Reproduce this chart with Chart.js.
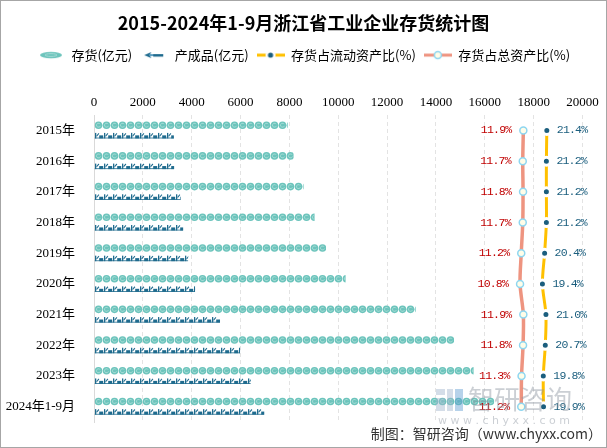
<!DOCTYPE html>
<html><head><meta charset="utf-8">
<script src="https://cdn.jsdelivr.net/npm/chart.js@4.4.1/dist/chart.umd.min.js"></script>
<style>html,body{margin:0;padding:0;background:#fff;}#wrap{position:absolute;left:0;top:0;width:607px;height:448px;}</style>
</head><body><div id="wrap"><canvas id="c" width="607" height="448"></canvas></div>
<script>
const categories = ['2015年','2016年','2017年','2018年','2019年','2020年','2021年','2022年','2023年','2024年1-9月'];
const inventory = [7930, 8170, 8580, 9030, 9500, 10300, 13170, 14740, 15540, 16390];
const finishedGoods = [3270, 3280, 3550, 3650, 3860, 4140, 5160, 5980, 6420, 6970];
const shareOfCurrentAssets = [21.4, 21.2, 21.2, 21.2, 20.4, 19.4, 21.0, 20.7, 19.8, 19.9];
const shareOfTotalAssets = [11.9, 11.7, 11.8, 11.7, 11.2, 10.8, 11.9, 11.8, 11.3, 11.2];
const xTickValues = [0, 2000, 4000, 6000, 8000, 10000, 12000, 14000, 16000, 18000, 20000];
const legendNames = ['存货(亿元)', '产成品(亿元)', '存货占流动资产比(%)', '存货占总资产比(%)'];
const titleText = '2015-2024年1-9月浙江省工业企业存货统计图';
const sourceText = '制图：智研咨询（www.chyxx.com）';

const TEAL = '#6CC4BC', TEAL_LIGHT = '#A6DCD6', DARKBLUE = '#1F6B8E';
const YELLOW = '#FFC000', SALMON = '#EE9480', DOT = '#1B5E7E';
const CJK = '"Noto Sans CJK SC", sans-serif';
const SERIF = '"Liberation Serif", "Noto Sans CJK SC", serif';

function makeCanvas(w, h, draw) { const c = document.createElement('canvas'); c.width = w; c.height = h; draw(c.getContext('2d')); return c; }
const iconInv = makeCanvas(26, 10, g => {
  g.fillStyle = TEAL; g.beginPath(); g.ellipse(13, 5, 11, 3.2, 0, 0, Math.PI * 2); g.fill();
  g.strokeStyle = TEAL_LIGHT; g.lineWidth = 1; g.beginPath(); g.ellipse(13, 5, 6, 1.4, 0, 0, Math.PI * 2); g.stroke();
});
const iconFG = makeCanvas(26, 10, g => {
  g.fillStyle = DARKBLUE; g.beginPath(); g.moveTo(3, 5); g.lineTo(10, 2); g.lineTo(8.5, 5); g.lineTo(10, 8); g.closePath(); g.fill();
  g.fillStyle = '#5A9CC0'; g.fillRect(8, 4, 4, 2);
  g.fillStyle = DARKBLUE; g.fillRect(12, 4, 10, 2.5);
});
const iconCur = makeCanvas(28, 12, g => {
  g.strokeStyle = YELLOW; g.lineWidth = 3; g.beginPath(); g.moveTo(0, 6); g.lineTo(28, 6); g.stroke();
  g.fillStyle = '#fff'; g.beginPath(); g.arc(14, 6, 5, 0, Math.PI * 2); g.fill();
  g.fillStyle = DOT; g.beginPath(); g.arc(14, 6, 2.6, 0, Math.PI * 2); g.fill();
});
const iconTot = makeCanvas(28, 12, g => {
  g.strokeStyle = SALMON; g.lineWidth = 3; g.beginPath(); g.moveTo(0, 6); g.lineTo(28, 6); g.stroke();
  g.fillStyle = '#FFFDE8'; g.strokeStyle = '#8ED6F0'; g.lineWidth = 1.5; g.beginPath(); g.arc(14, 6, 3.5, 0, Math.PI * 2); g.fill(); g.stroke();
});
const legendIcons = [iconInv, iconFG, iconCur, iconTot];

const pictorial = {
  id: 'pictorial',
  afterDatasetDraw(chart, args) {
    const ctx = chart.ctx;
    if (args.index === 0) {
      args.meta.data.forEach(el => {
        const { x, y, base, height } = el.getProps(['x', 'y', 'base', 'height'], true);
        const d = height, r = d / 2;
        ctx.save(); ctx.beginPath(); ctx.rect(base, y - r - 1, x - base, d + 2); ctx.clip();
        for (let cx = base + r; cx - r < x; cx += d) {
          ctx.fillStyle = TEAL; ctx.beginPath(); ctx.arc(cx, y, r - 0.2, 0, Math.PI * 2); ctx.fill();
          ctx.strokeStyle = TEAL_LIGHT; ctx.lineWidth = 1; ctx.beginPath(); ctx.arc(cx, y, r * 0.5, 0.3, Math.PI * 2 - 0.6); ctx.stroke();
        }
        ctx.restore();
      });
    } else if (args.index === 1) {
      args.meta.data.forEach(el => {
        const { x, y, base, height } = el.getProps(['x', 'y', 'base', 'height'], true);
        const h = height, top = y - h / 2;
        ctx.save(); ctx.beginPath(); ctx.rect(base, top - 1, x - base, h + 2); ctx.clip();
        ctx.fillStyle = DARKBLUE;
        for (let ix = base + 0.5; ix < x; ix += 9) {
          ctx.fillRect(ix, top, 1.3, h);
          ctx.beginPath(); ctx.moveTo(ix + 1.3, y); ctx.lineTo(ix + 3.5, top); ctx.lineTo(ix + 4.3, top + 0.8); ctx.lineTo(ix + 1.8, y + 1); ctx.closePath(); ctx.fill();
          ctx.fillRect(ix + 4.2, y - 0.3, 4, h / 2 + 0.3);
        }
        ctx.fillRect(base, top + h - 0.8, x - base, 0.8);
        ctx.restore();
      });
    }
  }
};

const labelsPlugin = {
  id: 'valueLabels',
  afterDatasetsDraw(chart) {
    const ctx = chart.ctx;
    ctx.save();
    ctx.font = '11.5px "Liberation Mono", monospace';
    ctx.letterSpacing = '-0.8px';
    ctx.textBaseline = 'middle';
    chart.getDatasetMeta(2).data.forEach((pt, i) => {
      ctx.fillStyle = DOT; ctx.textAlign = 'left';
      ctx.fillText(shareOfCurrentAssets[i].toFixed(1) + '%', pt.x + 10, pt.y);
    });
    chart.getDatasetMeta(3).data.forEach((pt, i) => {
      ctx.fillStyle = '#C00000'; ctx.textAlign = 'right';
      ctx.fillText(shareOfTotalAssets[i].toFixed(1) + '%', pt.x - 12, pt.y);
    });
    ctx.restore();
  }
};

const decor = {
  id: 'decor',
  beforeDraw(chart) {
    const ctx = chart.ctx; ctx.save(); ctx.fillStyle = '#fff'; ctx.fillRect(0, 0, chart.width, chart.height); ctx.restore();
  },
  afterDraw(chart) {
    const ctx = chart.ctx; ctx.save();
    ctx.globalAlpha = 0.45;
    ctx.fillStyle = '#9FB3CC'; ctx.fillRect(436, 389, 9, 6); ctx.fillRect(436, 398, 9, 13); ctx.fillRect(447, 389, 6, 22);
    ctx.fillStyle = '#5E9BD0'; ctx.fillRect(455, 389, 8, 22);
    ctx.fillStyle = '#8C95A0'; ctx.font = '26px ' + CJK; ctx.textBaseline = 'middle'; ctx.textAlign = 'left';
    ctx.fillText('智研咨询', 468, 399);
    ctx.font = '11px "DejaVu Sans", sans-serif';
    ctx.fillText('w w w . c h y x x . c o m', 438, 421);
    ctx.globalAlpha = 1;
    ctx.fillStyle = '#333'; ctx.font = '14px ' + CJK; ctx.textAlign = 'right';
    ctx.fillText(sourceText, 602, 434);
    ctx.strokeStyle = '#A6A6A6'; ctx.lineWidth = 1; ctx.strokeRect(0.5, 0.5, chart.width - 1, chart.height - 1);
    ctx.restore();
  }
};

new Chart(document.getElementById('c'), {
  data: {
    labels: categories,
    datasets: [
      { type: 'bar', label: legendNames[0], data: inventory, xAxisID: 'x', yAxisID: 'y', backgroundColor: 'rgba(0,0,0,0)', maxBarThickness: 8, categoryPercentage: 0.68, barPercentage: 1, indexAxis: 'y' },
      { type: 'bar', label: legendNames[1], data: finishedGoods, xAxisID: 'x', yAxisID: 'y', backgroundColor: 'rgba(0,0,0,0)', maxBarThickness: 5.5, categoryPercentage: 0.68, barPercentage: 1, indexAxis: 'y' },
      { type: 'line', label: legendNames[2], data: shareOfCurrentAssets, xAxisID: 'x2', yAxisID: 'y', indexAxis: 'y', borderColor: YELLOW, borderWidth: 3, tension: 0.3, pointRadius: 4, pointBorderWidth: 3, pointBackgroundColor: DOT, pointBorderColor: '#fff', fill: false },
      { type: 'line', label: legendNames[3], data: shareOfTotalAssets, xAxisID: 'x3', yAxisID: 'y', indexAxis: 'y', borderColor: SALMON, borderWidth: 3.5, tension: 0.3, pointRadius: 3.5, pointBorderWidth: 1.5, pointBackgroundColor: '#FFFDE8', pointBorderColor: '#8ED6F0', fill: false }
    ]
  },
  options: {
    indexAxis: 'y',
    responsive: false,
    animation: false,
    events: [],
    layout: { padding: { left: 0, right: 0, top: 0, bottom: 26 } },
    scales: {
      x: {
        type: 'linear', position: 'top', min: 0, max: 20000,
        afterBuildTicks: s => { s.ticks = xTickValues.map(v => ({ value: v })); },
        afterFit: s => { s.height = 43.5; },
        ticks: { color: '#000', font: { family: SERIF, size: 13 }, padding: 5, callback: v => String(v) },
        grid: { color: '#E3E3E3', drawTicks: false, tickLength: 0 },
        border: { display: false, dash: [4, 3] }
      },
      x2: { type: 'linear', display: false, min: -184.2, max: 37.6 },
      x3: { type: 'linear', display: false, min: -131.1, max: 31.6 },
      y: {
        type: 'category',
        afterFit: s => { s.width = 94; },
        ticks: { color: '#000', font: { family: SERIF, size: 13 }, padding: 11 },
        grid: { display: false },
        border: { display: true, color: '#D9D9D9', width: 1 }
      },
      yRight: {
        type: 'linear', position: 'right', display: true,
        ticks: { display: false }, grid: { display: false }, border: { display: false },
        afterFit: s => { s.width = 24.5; }
      }
    },
    plugins: {
      tooltip: { enabled: false },
      title: { display: true, text: titleText, color: '#000', font: { family: CJK, size: 18, weight: 'bold' }, padding: { top: 12, bottom: 7 } },
      legend: {
        display: true, position: 'top',
        labels: {
          usePointStyle: true, pointStyleWidth: 28, padding: 8, color: '#000',
          font: { family: CJK, size: 13 },
          generateLabels: () => legendNames.map((t, i) => ({ text: t, pointStyle: legendIcons[i], fillStyle: '#fff', strokeStyle: '#fff', lineWidth: 0, hidden: false, datasetIndex: i, fontColor: '#000' }))
        }
      }
    }
  },
  plugins: [pictorial, labelsPlugin, decor]
});
</script></body></html>
